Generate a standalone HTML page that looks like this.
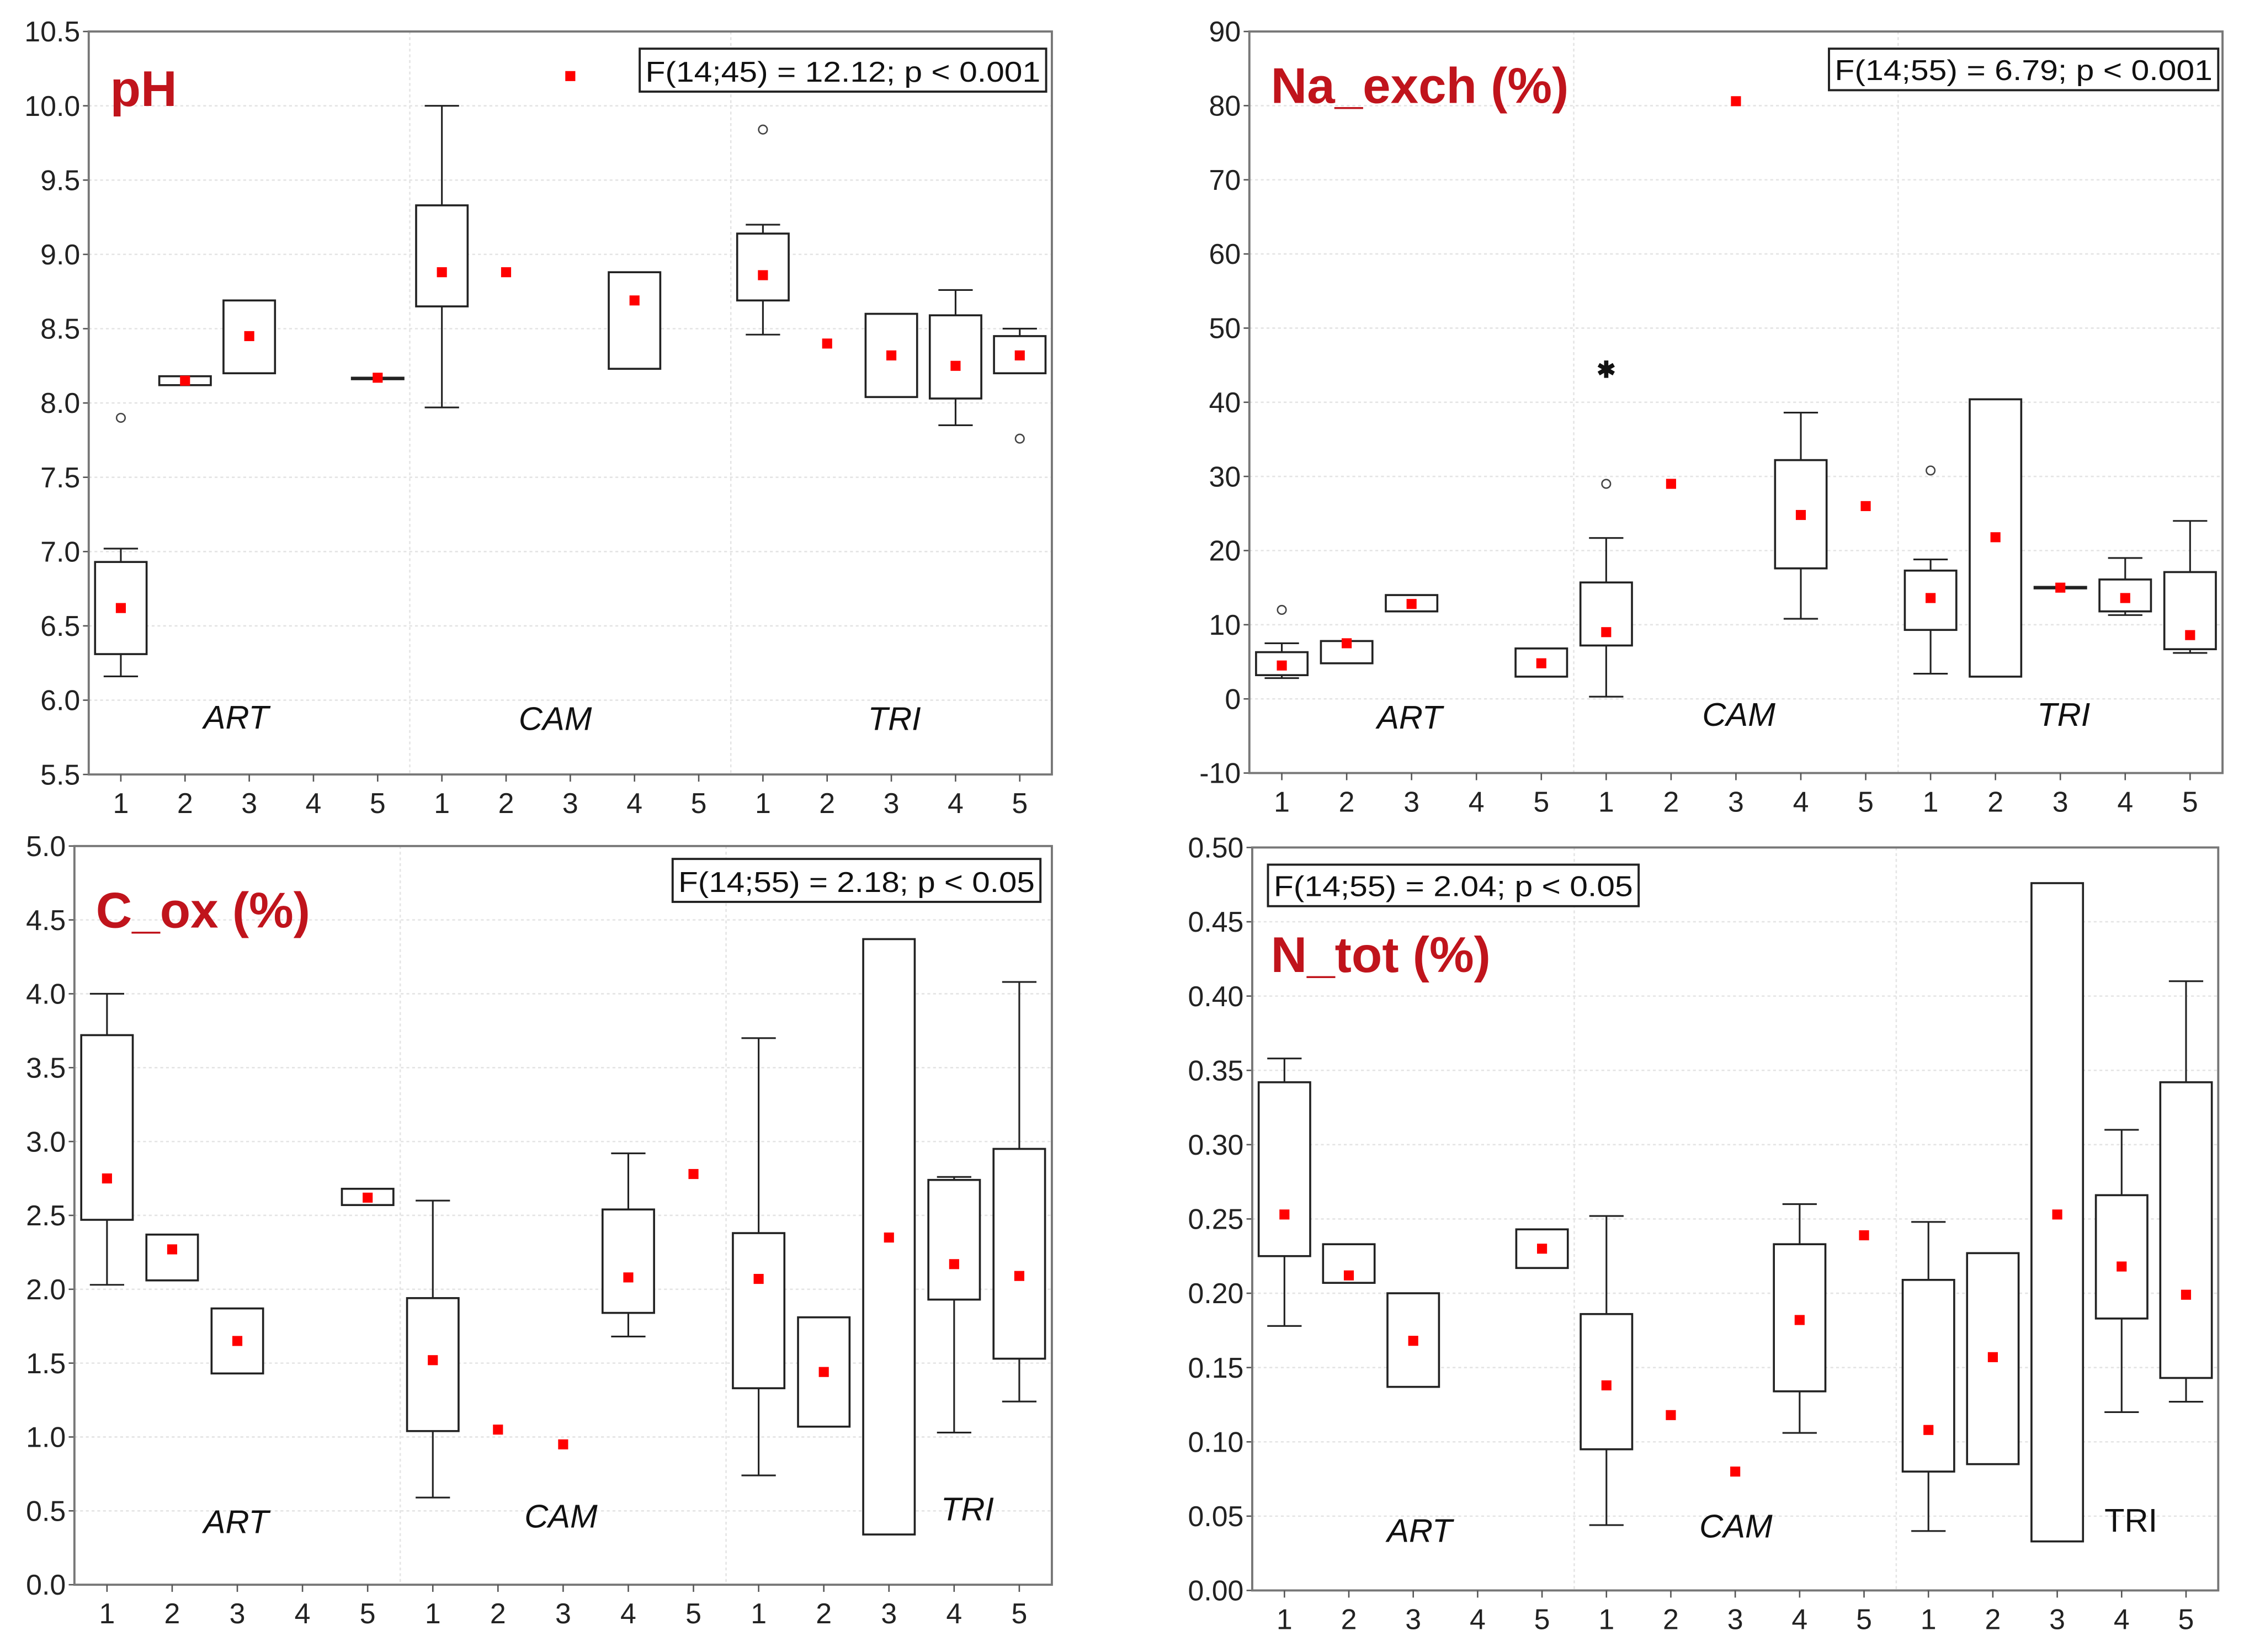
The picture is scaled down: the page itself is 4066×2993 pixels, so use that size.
<!DOCTYPE html>
<html><head><meta charset="utf-8"><style>
html,body{margin:0;padding:0;background:#fff}
svg{display:block}
text{font-family:"Liberation Sans",sans-serif}
</style></head><body>
<svg id="chart" width="4066" height="2993" viewBox="0 0 1568 1154" preserveAspectRatio="none" xmlns="http://www.w3.org/2000/svg"></svg>
<script>
// ----- data (null = missing) -----
const categories = ["1","2","3","4","5","1","2","3","4","5","1","2","3","4","5"];
const groups = ["ART","CAM","TRI"];
// pH
const phMean=[6.62,8.15,8.45,null,8.17,8.88,8.88,10.2,8.69,null,8.86,8.4,8.32,8.25,8.32];
const phBoxLo=[6.31,8.12,8.2,null,8.16,8.65,null,null,8.23,null,8.69,null,8.04,8.03,8.2];
const phBoxHi=[6.93,8.18,8.69,null,8.17,9.33,null,null,8.88,null,9.14,null,8.6,8.59,8.45];
const phWLo=[6.16,null,null,null,null,7.97,null,null,null,null,8.46,null,null,7.85,null];
const phWHi=[7.02,null,null,null,null,10.0,null,null,null,null,9.2,null,null,8.76,8.5];
const phOut=[[0,7.9],[10,9.84],[14,7.76]];
const phExt=[];
const phTicks=[5.5,6.0,6.5,7.0,7.5,8.0,8.5,9.0,9.5,10.0,10.5];
// Na_exch
const naMean=[4.5,7.5,12.8,null,4.8,9,29,80.6,24.8,26,13.6,21.8,15,13.6,8.6];
const naBoxLo=[3.2,4.8,11.8,null,3,7.2,null,null,17.6,null,9.3,3,14.9,11.8,6.7];
const naBoxHi=[6.3,7.8,14,null,6.8,15.7,null,null,32.2,null,17.3,40.4,15.1,16.1,17.1];
const naWLo=[2.8,null,null,null,null,0.3,null,null,10.8,null,3.4,null,null,11.3,6.2];
const naWHi=[7.5,null,null,null,null,21.7,null,null,38.6,null,18.8,null,null,19,24];
const naOut=[[0,12],[5,29],[10,30.8]];
const naExt=[[5,44.5]];
const naTicks=[-10,0,10,20,30,40,50,60,70,80,90];
// C_ox
const cMean=[2.75,2.27,1.65,null,2.62,1.52,1.05,0.95,2.08,2.78,2.07,1.44,2.35,2.17,2.09];
const cBoxLo=[2.47,2.06,1.43,null,2.57,1.04,null,null,1.84,null,1.33,1.07,0.34,1.93,1.53];
const cBoxHi=[3.72,2.37,1.87,null,2.68,1.94,null,null,2.54,null,2.38,1.81,4.37,2.74,2.95];
const cWLo=[2.03,null,null,null,null,0.59,null,null,1.68,null,0.74,null,null,1.03,1.24];
const cWHi=[4.0,null,null,null,null,2.6,null,null,2.92,null,3.7,null,null,2.76,4.08];
const cTicks=[0,0.5,1,1.5,2,2.5,3,3.5,4,4.5,5];
// N_tot
const nMean=[0.253,0.212,0.168,null,0.23,0.138,0.118,0.08,0.182,0.239,0.108,0.157,0.253,0.218,0.199];
const nBoxLo=[0.225,0.207,0.137,null,0.217,0.095,null,null,0.134,null,0.08,0.085,0.033,0.183,0.143];
const nBoxHi=[0.342,0.233,0.2,null,0.243,0.186,null,null,0.233,null,0.209,0.227,0.476,0.266,0.342];
const nWLo=[0.178,null,null,null,null,0.044,null,null,0.106,null,0.04,null,null,0.12,0.127];
const nWHi=[0.358,null,null,null,null,0.252,null,null,0.26,null,0.248,null,null,0.31,0.41];
const nTicks=[0,0.05,0.1,0.15,0.2,0.25,0.3,0.35,0.4,0.45,0.5];

const NS="http://www.w3.org/2000/svg";
const svg=document.getElementById('chart');
function el(tag,attrs,parent,txt){const e=document.createElementNS(NS,tag);for(const k in attrs)e.setAttribute(k,attrs[k]);if(txt!==undefined)e.textContent=txt;(parent||svg).appendChild(e);return e;}

function panel(cfg){
  const g=el('g',{});
  
  
  const L=cfg.L,R=cfg.R,T=cfg.T,B=cfg.B;
  const min=cfg.ticks[0],max=cfg.ticks[cfg.ticks.length-1];
  const y=v=>B-(v-min)/(max-min)*(B-T);
  const bw=(R-L)/15;
  const x=i=>L+bw*(i+0.5);
  // grid
  cfg.ticks.forEach(t=>{
    if(t!==min&&t!==max){const gl=el('line',{x1:L,x2:R,y1:y(t),y2:y(t),stroke:'#e4e4e4','stroke-width':1,'stroke-dasharray':'2,2'},g);
    }
    el('line',{x1:L-4,x2:L,y1:y(t),y2:y(t),stroke:'#555','stroke-width':1},g);
    const tl=el('text',{x:L-6,y:y(t)+7,'text-anchor':'end','font-size':20,fill:'#222'},g,cfg.fmt(t));
    
  });
  [5,10].forEach(k=>{el('line',{x1:L+bw*k,x2:L+bw*k,y1:T,y2:B,stroke:'#e4e4e4','stroke-width':1,'stroke-dasharray':'2,2'},g);});
  const fr=el('rect',{x:L,y:T,width:R-L,height:B-T,fill:'none',stroke:'#777','stroke-width':1.5},g);
  
  categories.forEach((c,i)=>{
    el('line',{x1:x(i),x2:x(i),y1:B,y2:B+5,stroke:'#555','stroke-width':1},g);
    const xl=el('text',{x:x(i),y:B+27,'text-anchor':'middle','font-size':20,fill:'#222'},g,c);
    
  });
  const d=cfg.data;
  for(let i=0;i<15;i++){
    const bg=el('g',{},g);
    
    
    const cx=x(i);
    if(d.wLo[i]!=null&&d.boxLo[i]!=null){el('line',{x1:cx,x2:cx,y1:y(d.boxLo[i]),y2:y(d.wLo[i]),stroke:'#222','stroke-width':1.2},bg);el('line',{x1:cx-12,x2:cx+12,y1:y(d.wLo[i]),y2:y(d.wLo[i]),stroke:'#222','stroke-width':1.2},bg);}
    if(d.wHi[i]!=null&&d.boxHi[i]!=null){el('line',{x1:cx,x2:cx,y1:y(d.boxHi[i]),y2:y(d.wHi[i]),stroke:'#222','stroke-width':1.2},bg);el('line',{x1:cx-12,x2:cx+12,y1:y(d.wHi[i]),y2:y(d.wHi[i]),stroke:'#222','stroke-width':1.2},bg);}
    if(d.boxLo[i]!=null){const h=Math.max(1,y(d.boxLo[i])-y(d.boxHi[i]));el('rect',{x:cx-18,y:y(d.boxHi[i]),width:36,height:h,fill:'#fff',stroke:'#222','stroke-width':1.4},bg);}
    if(d.mean[i]!=null){const m=el('rect',{x:cx-3.5,y:y(d.mean[i])-3.5,width:7,height:7,fill:'#f00'},bg);
      }
  }
  (d.out||[]).forEach(o=>{const c=el('circle',{cx:x(o[0]),cy:y(o[1]),r:3,fill:'none',stroke:'#444','stroke-width':1},g);
    });
  (d.ext||[]).forEach(o=>{const c=el('text',{x:x(o[0]),y:y(o[1])+6,'text-anchor':'middle','font-size':16,'font-weight':'bold',fill:'#111'},g,'✱');
    });
  cfg.groupLabels.forEach((gl,k)=>{const t=el('text',{x:gl[0],y:gl[1],'text-anchor':'middle','font-size':23,'font-style':gl[2]?'normal':'italic',fill:'#111'},g,groups[k]);
    });
  const ti=el('text',{x:cfg.title[0],y:cfg.title[1],'font-size':35,'font-weight':'bold',fill:'#c0141c'},g,cfg.titleText);
  
  const fb=cfg.fbox;
  const fg=el('g',{},g);
  el('rect',{x:fb[0],y:fb[1],width:fb[2]-fb[0],height:fb[3]-fb[1],fill:'#fff',stroke:'#222','stroke-width':1.5},fg);
  el('text',{x:(fb[0]+fb[2])/2,y:fb[3]-7,'text-anchor':'middle','font-size':20,fill:'#111',textLength:fb[2]-fb[0]-8,lengthAdjust:'spacingAndGlyphs'},fg,cfg.ftext);
}
const f1=v=>v.toFixed(1), f0=v=>String(v), f2=v=>v.toFixed(2);
panel({name:'ph',L:62,R:735,T:22,B:541,ticks:phTicks,fmt:f1,
 data:{mean:phMean,boxLo:phBoxLo,boxHi:phBoxHi,wLo:phWLo,wHi:phWHi,out:phOut,ext:phExt},
 groupLabels:[[165,509],[388,510],[625,510]],title:[77,74],titleText:'pH',fbox:[447,34,731,64],ftext:'F(14;45) = 12.12; p < 0.001'});
panel({name:'na-exch',L:873,R:1553,T:22,B:540,ticks:naTicks,fmt:f0,
 data:{mean:naMean,boxLo:naBoxLo,boxHi:naBoxHi,wLo:naWLo,wHi:naWHi,out:naOut,ext:naExt},
 groupLabels:[[985,509],[1215,507],[1442,507]],title:[888,72],titleText:'Na_exch (%)',fbox:[1278,34,1550,63],ftext:'F(14;55) = 6.79; p < 0.001'});
panel({name:'c-ox',L:52,R:735,T:591,B:1107,ticks:cTicks,fmt:f1,
 data:{mean:cMean,boxLo:cBoxLo,boxHi:cBoxHi,wLo:cWLo,wHi:cWHi,out:[],ext:[]},
 groupLabels:[[165,1071],[392,1067],[676,1062]],title:[67,648],titleText:'C_ox (%)',fbox:[470,600,727,630],ftext:'F(14;55) = 2.18; p < 0.05'});
panel({name:'n-tot',L:875,R:1550,T:592,B:1111,ticks:nTicks,fmt:f2,
 data:{mean:nMean,boxLo:nBoxLo,boxHi:nBoxHi,wLo:nWLo,wHi:nWHi,out:[],ext:[]},
 groupLabels:[[992,1077],[1213,1074],[1489,1070,true]],title:[888,679],titleText:'N_tot (%)',fbox:[886,604,1145,633],ftext:'F(14;55) = 2.04; p < 0.05'});
</script>
</body></html>
